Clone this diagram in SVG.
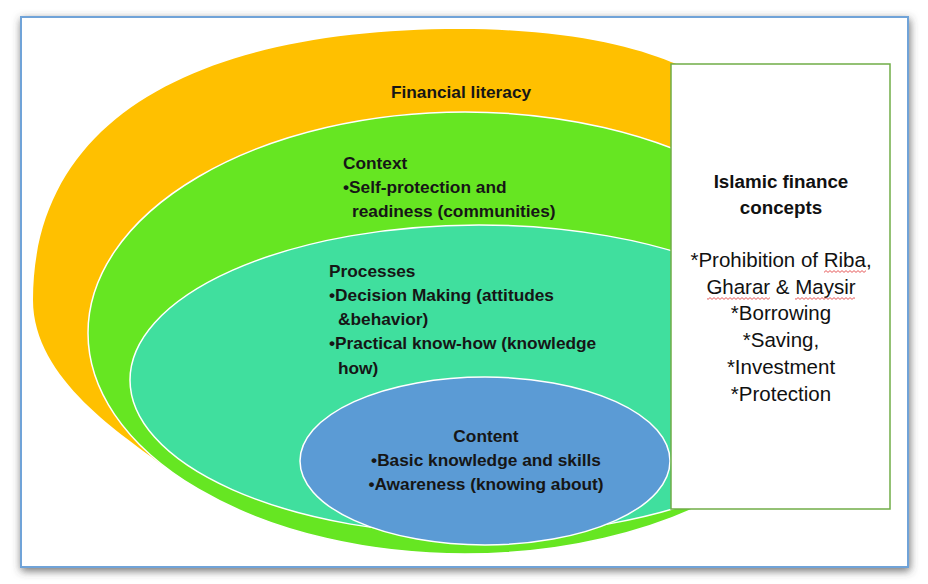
<svg xmlns="http://www.w3.org/2000/svg" width="928" height="584" viewBox="0 0 928 584">
  <defs>
    <filter id="shadow" x="-5%" y="-5%" width="110%" height="112%">
      <feDropShadow dx="1" dy="3" stdDeviation="4.5" flood-color="#444" flood-opacity="0.75"/>
    </filter>
    <pattern id="squiggle" width="4" height="3" patternUnits="userSpaceOnUse">
      <path d="M0 2.4 L2 0.6 L4 2.4" fill="none" stroke="#e03030" stroke-width="0.8"/>
    </pattern>
  </defs>
  <style>
    .ring { stroke: #ffffff; stroke-width: 1.5; }
    .lbl { font-family: "Liberation Sans", Arial, sans-serif; font-weight: bold; font-size: 17.3px; fill: #161616; }
    .box-title { font-family: "Liberation Sans", Arial, sans-serif; font-weight: bold; font-size: 18.8px; fill: #111; text-anchor: middle; }
    .box-item { font-family: "Liberation Sans", Arial, sans-serif; font-size: 20.5px; fill: #111; text-anchor: middle; }
  </style>
  <rect width="928" height="584" fill="#ffffff"/>
  <rect id="frame" x="21" y="17" width="887" height="550" fill="#ffffff" stroke="#6fa3d8" stroke-width="2" filter="url(#shadow)"/>

  <g id="node-financial-literacy">
    <path d="M33 300 C33 105 220 29 460 29 C560 29 630 45 671 62 L720 80 L720 400 L300 440 L165 467 C125 436 33 380 33 300 Z" fill="#FFC000"/>
    <text class="lbl" x="461" y="98" text-anchor="middle">Financial literacy</text>
  </g>

  <g id="node-context">
    <ellipse class="ring" cx="465" cy="333" rx="377" ry="221" fill="#66E622"/>
    <text class="lbl" x="343" y="169">Context</text>
    <text class="lbl" x="343" y="193">•Self-protection and</text>
    <text class="lbl" x="352" y="217">readiness (communities)</text>
  </g>

  <g id="node-processes">
    <ellipse class="ring" cx="479" cy="380" rx="349" ry="155" fill="#40DF9E"/>
    <text class="lbl" x="329" y="277">Processes</text>
    <text class="lbl" x="329" y="301">•Decision Making (attitudes</text>
    <text class="lbl" x="338" y="325">&amp;behavior)</text>
    <text class="lbl" x="329" y="349">•Practical know-how (knowledge</text>
    <text class="lbl" x="338" y="374">how)</text>
  </g>

  <g id="node-content">
    <ellipse class="ring" cx="485" cy="461" rx="185" ry="84" fill="#5B9BD5"/>
    <text class="lbl" x="486" y="442" text-anchor="middle">Content</text>
    <text class="lbl" x="486" y="466" text-anchor="middle">•Basic knowledge and skills</text>
    <text class="lbl" x="486" y="490" text-anchor="middle">•Awareness (knowing about)</text>
  </g>

  <g id="node-islamic-finance">
    <rect x="671" y="64" width="219" height="445" fill="#ffffff" stroke="#70AD47" stroke-width="1.5"/>
    <text class="box-title" x="781" y="188">Islamic finance</text>
    <text class="box-title" x="781" y="214">concepts</text>
    <text class="box-item" x="781" y="267">*Prohibition of Riba,</text>
    <text class="box-item" x="781" y="294">Gharar &amp; Maysir</text>
    <text class="box-item" x="781" y="320">*Borrowing</text>
    <text class="box-item" x="781" y="347">*Saving,</text>
    <text class="box-item" x="781" y="374">*Investment</text>
    <text class="box-item" x="781" y="401">*Protection</text>
    <rect x="824" y="270" width="42" height="3" fill="url(#squiggle)"/>
    <rect x="707" y="297" width="63" height="3" fill="url(#squiggle)"/>
    <rect x="795" y="297" width="60" height="3" fill="url(#squiggle)"/>
  </g>

  <g id="connectors"/>
</svg>
